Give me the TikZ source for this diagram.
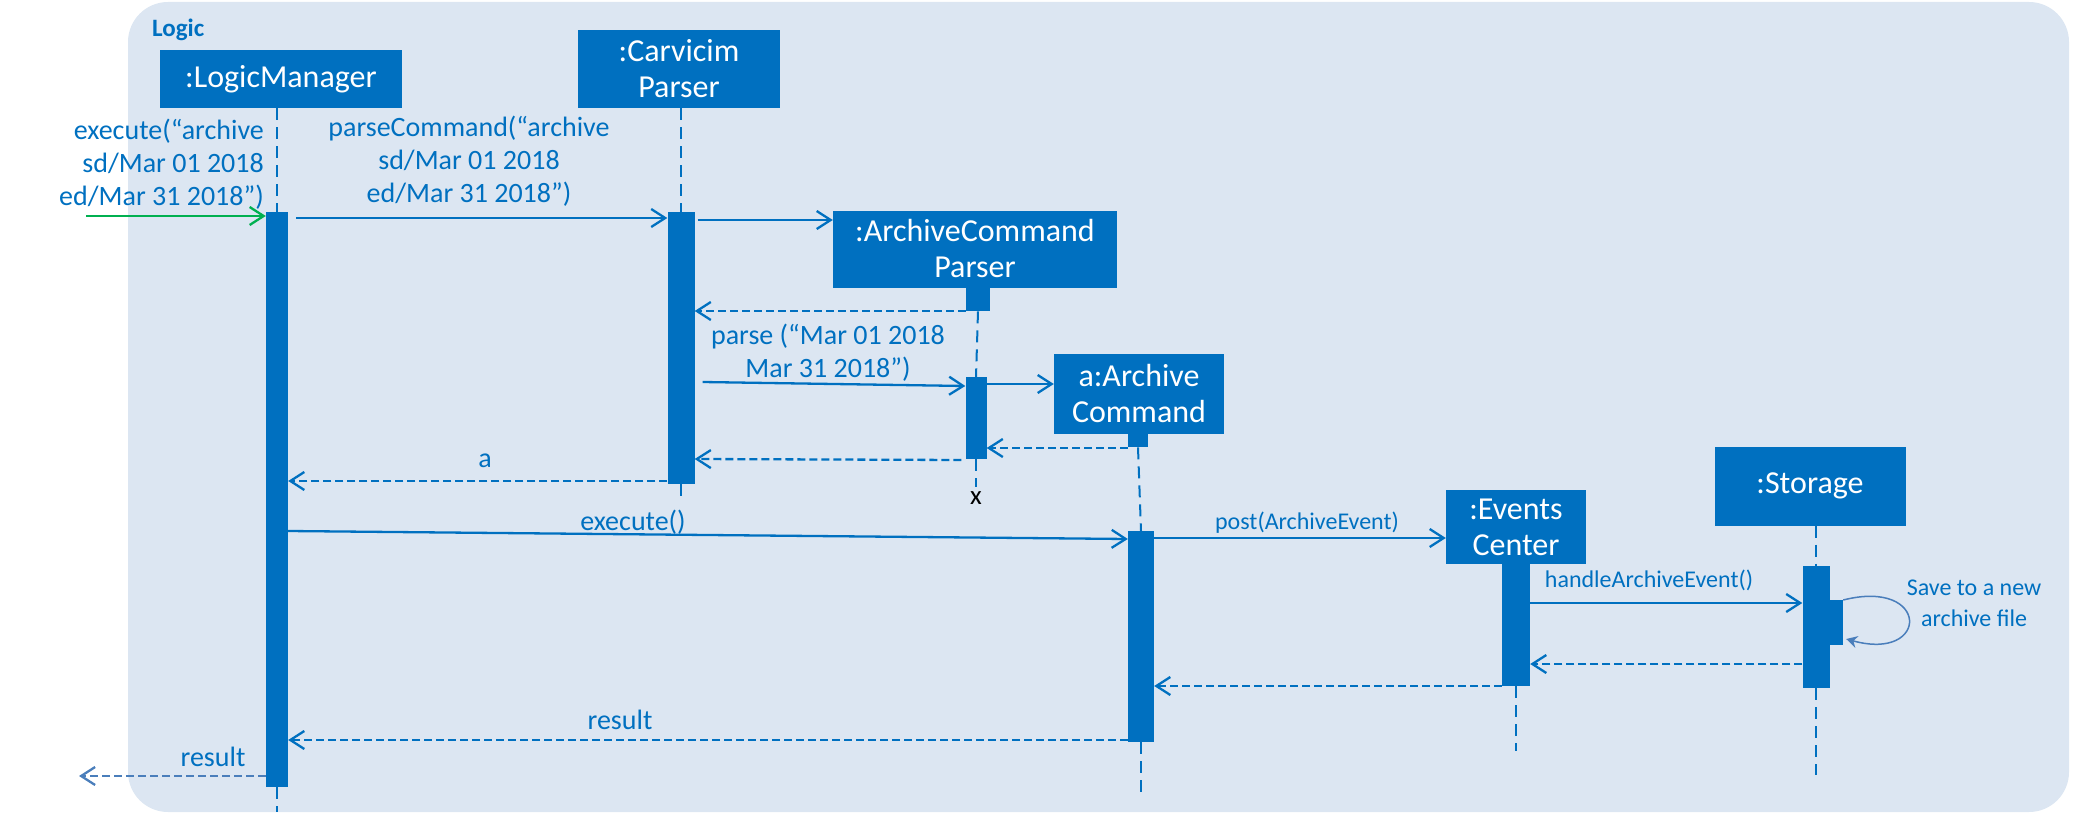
\documentclass[tikz,border=0pt]{standalone}
\usepackage{fontspec}
\setmainfont{Carlito}
\usetikzlibrary{arrows.meta}
\definecolor{ablue}{HTML}{0070C0}
\definecolor{bgblue}{HTML}{DCE6F2}
\definecolor{softblue}{HTML}{4A7EBB}
\definecolor{agreen}{HTML}{00B050}
\tikzset{
  obj/.style={fill=ablue, text=white, align=center, inner sep=0pt,
    font=\fontsize{32}{36}\selectfont},
  actbar/.style={fill=ablue, inner sep=0pt, minimum width=#1, anchor=north},
  actbar/.default=22pt,
  life/.style={draw=ablue, line width=2pt, dash pattern=on 12pt off 7pt},
  msg/.style={draw=ablue, line width=2.3pt, -{Straight Barb[length=14pt,width=18pt,line width=2.3pt]}},
  ret/.style={msg, dash pattern=on 8pt off 4pt},
  lbl/.style={text=ablue, inner sep=0pt, font=\fontsize{28}{33}\selectfont},
  smalllbl/.style={text=ablue, inner sep=0pt, font=\fontsize{24}{31}\selectfont}
}
\begin{document}
\begin{tikzpicture}[x=1pt, y=-1pt]
  \useasboundingbox (0,0) rectangle (2073,816);
  \fill[bgblue, rounded corners=40pt] (128,2) rectangle (2069,812);
  \node[anchor=west, text=ablue, inner sep=0pt, font=\fontsize{25}{28}\selectfont\bfseries] (frame) at (152,30) {Logic};

  % objects
  \node[obj, minimum width=242pt, minimum height=58pt] (lm) at (281,79) {:LogicManager};
  \node[obj, minimum width=202pt, minimum height=78pt] (cp) at (679,69) {:Carvicim\\Parser};
  \node[obj, minimum width=284pt, minimum height=77pt] (acp) at (975,249) {:ArchiveCommand\\Parser};
  \node[obj, minimum width=170pt, minimum height=80pt] (ac) at (1139,394) {a:Archive\\Command};
  \node[obj, minimum width=140pt, minimum height=74pt] (ec) at (1516,527) {:Events\\Center};
  \node[obj, minimum width=191pt, minimum height=79pt] (st) at (1810,486) {:Storage};

  % activation bars
  \node[actbar, minimum height=575pt] (lmbar) at (277,212) {};
  \node[actbar=27pt, minimum height=272pt] (cpbar) at (681,212) {};
  \node[actbar=24pt, minimum height=23pt] (acpbar) at (978,288) {};
  \node[actbar=21pt, minimum height=82pt] (acpbarb) at (976,377) {};
  \node[actbar=20pt, minimum height=13pt] (acbar) at (1138,434) {};
  \node[actbar=26pt, minimum height=211pt] (acbarb) at (1141,531) {};
  \node[actbar=28pt, minimum height=122pt] (ecbar) at (1516,564) {};
  \node[actbar=27pt, minimum height=122pt] (stbar) at (1816,566) {};
  \node[actbar=14pt, minimum height=45pt] (stsub) at (1836,600) {};

  % lifelines
  \draw[life] (lm.south -| lmbar) -- (lmbar.north);
  \draw[life] (lmbar.south) -- ++(0,25);
  \draw[life] (cp.south -| cpbar) -- (cpbar.north);
  \draw[life] (cpbar.south) -- ++(0,18);
  \draw[life] (acpbar.south) -- (acpbarb.north);
  \draw[life] (acpbarb.south) -- ++(0,28);
  \node[inner sep=0pt, font=\fontsize{27}{28}\selectfont] (destroy) at (976,498) {x};
  \draw[life] (acbar.south) -- (acbarb.north);
  \draw[life] (acbarb.south) -- ++(0,51);
  \draw[life] (ecbar.south) -- ++(0,65);
  \draw[life] (st.south -| stbar) -- (stbar.north);
  \draw[life] (stbar.south) -- ++(0,87);

  % messages
  \coordinate (start) at (86,216);
  \draw[msg, draw=agreen] (start) -- (lmbar.west |- start);
  \node[lbl, anchor=east, align=right] (exlbl) at (264,164) {execute(“archive\\sd/Mar 01 2018\\ed/Mar 31 2018”)};
  \draw[msg] ([xshift=8pt]lmbar.east |- 0,218) -- (cpbar.west |- 0,218);
  \node[lbl, align=center] (pclbl) at (469,161) {parseCommand(“archive\\sd/Mar 01 2018\\ed/Mar 31 2018”)};
  \draw[msg] ([xshift=3pt]cpbar.east |- 0,220) -- (acp.west |- 0,220);
  \draw[ret] (acpbar.west |- 0,311) -- (cpbar.east |- 0,311);
  \node[lbl, align=center] (parselbl) at (828,353) {parse (“Mar 01 2018\\Mar 31 2018”)};
  \draw[msg] ([xshift=8pt]cpbar.east |- 0,382) -- (acpbarb.west |- 0,386);
  \draw[msg] (acpbarb.east |- 0,384) -- (ac.west |- 0,384);
  \draw[ret] (acbar.west |- 0,448) -- (acpbarb.east |- 0,448);
  \draw[ret] ([xshift=-4pt]acpbarb.west |- 0,460) -- (cpbar.east |- 0,459);
  \draw[ret] (cpbar.west |- 0,481) -- (lmbar.east |- 0,481);
  \node[lbl] (albl) at (485,461) {a};
  \draw[msg] (lmbar.east |- 0,531) -- (acbarb.west |- 0,539);
  \node[lbl] (exelbl) at (633,522) {execute()};
  \draw[msg] (acbarb.east |- 0,538) -- (ec.west |- 0,538);
  \node[smalllbl] (postlbl) at (1307,523) {post(ArchiveEvent)};
  \draw[msg] (ecbar.east |- 0,603) -- (stbar.west |- 0,603);
  \node[smalllbl] (hlbl) at (1649,580) {handleArchiveEvent()};
  \draw[draw=softblue, line width=1.5pt, -{Stealth[length=11pt,width=12pt]}]
    (stsub.north east) .. controls (1930,578) and (1930,662) .. ([xshift=3pt]stsub.east |- 0,639);
  \node[smalllbl, align=center] (savelbl) at (1974,603) {Save to a new\\archive file};
  \draw[ret] (stbar.west |- 0,664) -- (ecbar.east |- 0,664);
  \draw[ret] (ecbar.west |- 0,686) -- (acbarb.east |- 0,686);
  \draw[ret] (acbarb.west |- 0,740) -- (lmbar.east |- 0,740);
  \node[lbl] (reslbl) at (620,720) {result};
  \coordinate (finish) at (79,776);
  \draw[ret, draw=softblue] (lmbar.west |- finish) -- (finish);
  \node[lbl] (outlbl) at (213,757) {result};
\end{tikzpicture}
\end{document}
